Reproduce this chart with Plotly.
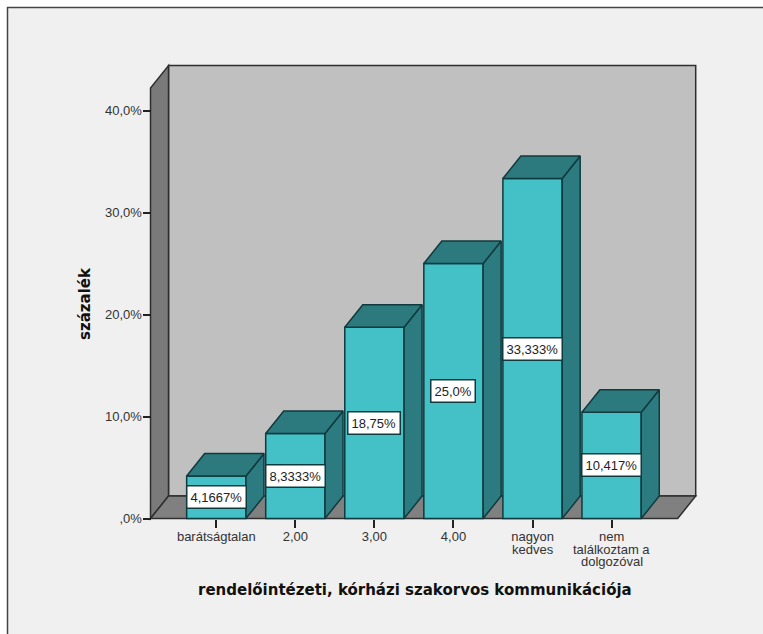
import plotly.graph_objects as go

# Survey results: share of answers per rating of specialist communication
categories = ["barátságtalan", "2,00", "3,00", "4,00", "nagyon", "nem"]
extra_label_lines = {4: ["kedves"], 5: ["találkoztam a", "dolgozóval"]}
percent_values = [4.1667, 8.3333, 18.75, 25.0, 33.333, 10.417]
value_labels = ["4,1667%", "8,3333%", "18,75%", "25,0%", "33,333%", "10,417%"]
y_tick_values = [0, 10, 20, 30, 40]
y_tick_labels = [",0%", "10,0%", "20,0%", "30,0%", "40,0%"]

X_TITLE = "rendelőintézeti, kórházi szakorvos kommunikációja"
Y_TITLE = "százalék"

# Oblique projection of the box: depth offset in data units
DEPTH_X = 0.2277
DEPTH_Y = 2.2
BAR_WIDTH = 0.75
BOX_LEFT = -0.832
BOX_RIGHT = 5.836
BOX_TOP = 42.2

WIDTH, HEIGHT = 763, 634
M_L, M_R, M_T, M_B = 140, 58, 60, 106
PX_PER_CAT = 79.06
PX_PER_PCT = 10.2
CAT0_PX = 216.3
BASE_PX = 518.5

plot_w = WIDTH - M_L - M_R
plot_h = HEIGHT - M_T - M_B

EDGE = "#0f3a3e"
WALL_EDGE = "#2e2e2e"
FRONT = "#44c1c7"
SIDE = "#2b7b80"
TOP = "#2d7a7e"
TEXT = "#333333"


def polygon(points):
    return "M" + " L".join(f"{x},{y}" for x, y in points) + " Z"


def paper_x(px):
    return (px - M_L) / plot_w


def paper_y(py):
    return (HEIGHT - M_B - py) / plot_h


fig = go.Figure()

# Front faces
fig.add_trace(go.Bar(
    x=list(range(len(percent_values))),
    y=percent_values,
    width=BAR_WIDTH,
    marker=dict(color=FRONT, line=dict(color=EDGE, width=1.5)),
    hoverinfo="skip",
    showlegend=False,
))

# Side and top faces derived from each bar's value
for i, v in enumerate(percent_values):
    x0, x1 = i - BAR_WIDTH / 2, i + BAR_WIDTH / 2
    faces = [
        ([x1, x1 + DEPTH_X, x1 + DEPTH_X, x1, x1], [0, DEPTH_Y, v + DEPTH_Y, v, 0], SIDE),
        ([x0, x1, x1 + DEPTH_X, x0 + DEPTH_X, x0], [v, v, v + DEPTH_Y, v + DEPTH_Y, v], TOP),
    ]
    for fx, fy, color in faces:
        fig.add_trace(go.Scatter(
            x=fx, y=fy, mode="lines", fill="toself", fillcolor=color,
            line=dict(color=EDGE, width=1.5), hoverinfo="skip", showlegend=False,
        ))

shapes = [
    # Chart frame running off the right and bottom of the page
    dict(type="rect", xref="paper", yref="paper", layer="below",
         x0=paper_x(7.5), x1=paper_x(WIDTH + 10),
         y0=paper_y(HEIGHT + 10), y1=paper_y(7.5),
         fillcolor="#f0f0f0", line=dict(color="#444444", width=1.5)),
    # Back wall
    dict(type="path", layer="below", fillcolor="#c0c0c0",
         line=dict(color=WALL_EDGE, width=1.5),
         path=polygon([(BOX_LEFT + DEPTH_X, DEPTH_Y), (BOX_RIGHT + DEPTH_X, DEPTH_Y),
                       (BOX_RIGHT + DEPTH_X, BOX_TOP + DEPTH_Y), (BOX_LEFT + DEPTH_X, BOX_TOP + DEPTH_Y)])),
    # Left wall
    dict(type="path", layer="below", fillcolor="#7a7a7a",
         line=dict(color=WALL_EDGE, width=1.5),
         path=polygon([(BOX_LEFT, 0), (BOX_LEFT + DEPTH_X, DEPTH_Y),
                       (BOX_LEFT + DEPTH_X, BOX_TOP + DEPTH_Y), (BOX_LEFT, BOX_TOP)])),
    # Floor
    dict(type="path", layer="below", fillcolor="#808080",
         line=dict(color=WALL_EDGE, width=1.5),
         path=polygon([(BOX_LEFT, 0), (BOX_RIGHT, 0),
                       (BOX_RIGHT + DEPTH_X, DEPTH_Y), (BOX_LEFT + DEPTH_X, DEPTH_Y)])),
]

annotations = []

# Value labels centred on the bar fronts
for i, (v, label) in enumerate(zip(percent_values, value_labels)):
    annotations.append(dict(
        x=i, y=v / 2, text=label, showarrow=False,
        font=dict(family="Liberation Sans", size=13, color="#222222"),
        bgcolor="#ffffff", bordercolor=EDGE, borderwidth=1.5, borderpad=3,
    ))

# Continuation lines of the wrapped category labels
line_offsets = [30.5, 42.5]
for i, lines in extra_label_lines.items():
    for line, offset in zip(lines, line_offsets):
        annotations.append(dict(
            x=i, y=0, yshift=-offset, text=line, showarrow=False,
            yanchor="middle", xanchor="center",
            font=dict(family="Liberation Sans", size=13, color=TEXT),
        ))

# Axis titles
annotations.append(dict(
    xref="paper", yref="paper", x=paper_x(414.5), y=paper_y(590), text=X_TITLE,
    xanchor="center", yanchor="middle",
    showarrow=False, font=dict(family="DejaVu Sans", size=15, color="#111111", weight="bold"),
))
annotations.append(dict(
    xref="paper", yref="paper", x=paper_x(85), y=paper_y(304), text=Y_TITLE, textangle=-90,
    xanchor="center", yanchor="middle",
    showarrow=False, font=dict(family="DejaVu Sans", size=15, color="#111111", weight="bold"),
))

x_low = (M_L - CAT0_PX) / PX_PER_CAT
x_high = (WIDTH - M_R - CAT0_PX) / PX_PER_CAT
y_low = (BASE_PX - (HEIGHT - M_B)) / PX_PER_PCT
y_high = (BASE_PX - M_T) / PX_PER_PCT

fig.update_layout(
    width=WIDTH, height=HEIGHT, autosize=False,
    margin=dict(l=M_L, r=M_R, t=M_T, b=M_B, pad=0),
    paper_bgcolor="#ffffff", plot_bgcolor="rgba(0,0,0,0)",
    showlegend=False, shapes=shapes, annotations=annotations,
    xaxis=dict(
        range=[x_low, x_high], anchor="free", position=paper_y(BASE_PX),
        tickmode="array", tickvals=list(range(len(categories))), ticktext=categories,
        ticks="outside", ticklen=8, tickwidth=1.5, tickcolor="#222222",
        ticklabelstandoff=-2,
        showgrid=False, zeroline=False, showline=False,
        tickfont=dict(family="Liberation Sans", size=13, color=TEXT),
    ),
    yaxis=dict(
        range=[y_low, y_high], anchor="free", position=paper_x(150.5),
        tickmode="array", tickvals=y_tick_values, ticktext=y_tick_labels,
        ticks="outside", ticklen=8, tickwidth=1.5, tickcolor="#222222",
        ticklabelstandoff=-2,
        showgrid=False, zeroline=False, showline=False,
        tickfont=dict(family="Liberation Sans", size=13, color=TEXT),
    ),
)

fig.write_html("out.html", config={"displayModeBar": False})
